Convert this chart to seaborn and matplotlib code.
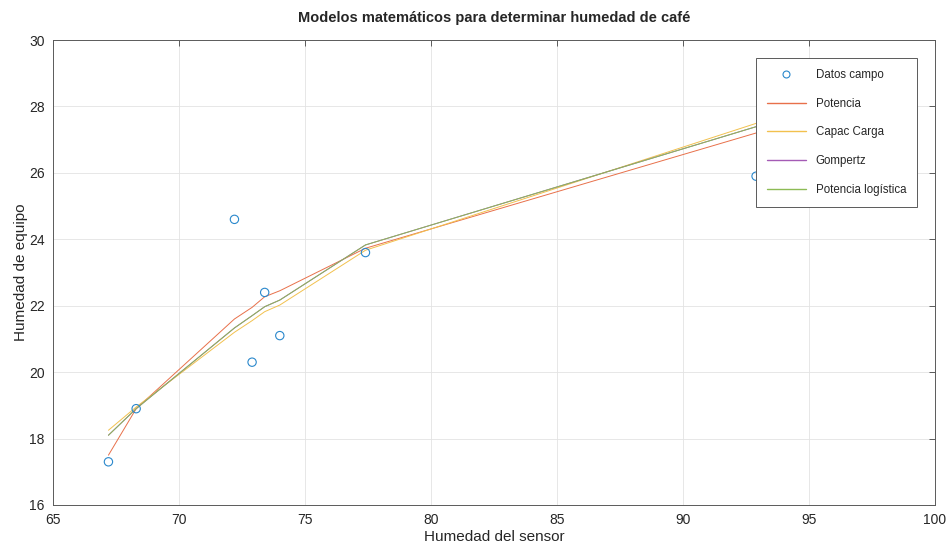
import pandas as pd
import matplotlib
matplotlib.use('Agg')
import matplotlib.pyplot as plt
from matplotlib.lines import Line2D
import seaborn as sns

# datos
humedad_sensor=[67.2,68.3,72.2,72.9,73.4,74.0,77.4,92.9]
datos_campo=[17.3,18.9,24.6,20.3,22.4,21.1,23.6,25.9]
potencia=[17.5,18.9,21.6,21.95,22.27,22.45,23.73,27.2]
capac_carga=[18.25,18.95,21.2,21.55,21.82,22.02,23.67,27.49]
gompertz=[18.1,18.9,21.33,21.7,21.97,22.17,23.83,27.39]
potencia_logistica=[18.1,18.9,21.33,21.7,21.97,22.17,23.83,27.39]

modelos={'Potencia':potencia,'Capac Carga':capac_carga,'Gompertz':gompertz,'Potencia logística':potencia_logistica}
colores={'Potencia':'#E8704A','Capac Carga':'#F2C14E','Gompertz':'#A45BB5','Potencia logística':'#8DBB55'}
azul='#2A88CC'

sns.set_style('white')
plt.rcParams['font.family']=['Liberation Sans','DejaVu Sans']

fig=plt.figure(figsize=(9.49,5.48),dpi=100)
ax=fig.add_axes([53/949,43/548,882/949,465/548])

campo=pd.DataFrame({'x':humedad_sensor,'y':datos_campo})
sns.scatterplot(data=campo,x='x',y='y',ax=ax,marker='o',s=36,facecolor='none',edgecolor=azul,linewidth=0.8,zorder=3,legend=False)
for nombre,valores in modelos.items():
    df=pd.DataFrame({'x':humedad_sensor,'y':valores})
    sns.lineplot(data=df,x='x',y='y',ax=ax,color=colores[nombre],linewidth=0.7,legend=False)

ax.set(xlim=(65,100),ylim=(16,30))
ax.set_xticks(range(65,101,5))
ax.set_yticks(range(16,31,2))
ax.grid(True,color='#e3e3e3',linewidth=0.6)
ax.set_axisbelow(True)
for s in ax.spines.values():
    s.set_color('#5a5a5a')
    s.set_linewidth(0.7)
ax.tick_params(direction='in',length=4,width=0.7,top=True,right=True,labelsize=10,colors='#262626',pad=6)
ax.tick_params(color='#5a5a5a')
ax.set_xlabel('Humedad del sensor',fontsize=11,color='#262626',labelpad=2)
ax.set_ylabel('Humedad de equipo',fontsize=11,color='#262626',labelpad=1)
ax.set_title('Modelos matemáticos para determinar humedad de café',fontsize=10.5,fontweight='bold',pad=13)

handles=[Line2D([],[],linestyle='none',marker='o',markersize=5,markerfacecolor='none',markeredgecolor=azul,markeredgewidth=0.8)]
for nombre in modelos:
    handles.append(Line2D([],[],color=colores[nombre],linewidth=1.0))
leg=ax.legend(handles,['Datos campo']+list(modelos),loc='upper right',bbox_to_anchor=(0.9796,0.9613),fontsize=8.3,frameon=True,fancybox=False,
              handlelength=3.35,labelspacing=1.45,borderpad=0.95,handletextpad=0.87,borderaxespad=0)
leg.get_frame().set_edgecolor('#5a5a5a')
leg.get_frame().set_linewidth(0.7)
leg.get_frame().set_alpha(1)

fig.savefig('out.png',dpi=100)
